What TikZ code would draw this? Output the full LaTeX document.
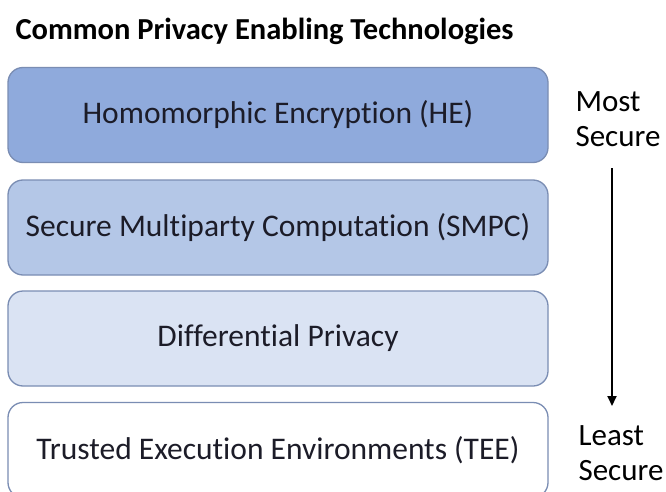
\documentclass[tikz,border=0pt]{standalone}
\usepackage{fontspec}
\setmainfont{Carlito}[RawFeature=-liga]
\usetikzlibrary{arrows.meta}
\definecolor{bordc}{HTML}{7A8DB3}
\definecolor{fillA}{HTML}{8FAADC}
\definecolor{fillB}{HTML}{B4C7E7}
\definecolor{fillC}{HTML}{DAE3F3}
\definecolor{txtc}{HTML}{1C1C28}
\begin{document}
\begin{tikzpicture}[x=1pt,y=-1pt,
  tier/.style={draw=bordc, line width=1.3pt, rounded corners=15pt, minimum width=540pt, minimum height=95pt, inner sep=0pt, text=txtc, font=\fontsize{31.5}{38}\selectfont},
  side/.style={anchor=west, align=left, font=\fontsize{31}{35}\selectfont, text=black}]
\useasboundingbox[fill=white] (0,0) rectangle (666,492);
\node[anchor=west, font=\bfseries\fontsize{30.5}{36}\selectfont, text=black] (title) at (12,31) {Common Privacy Enabling Technologies};
\node[tier, fill=fillA] (he) at (278,115) {Homomorphic Encryption (HE)};
\node[tier, fill=fillB] (smpc) at (278,227.5) {Secure Multiparty Computation (SMPC)};
\node[tier, fill=fillC] (dp) at (278,338.5) {Differential Privacy};
\node[tier, fill=white] (tee) at (278,450) {Trusted Execution Environments (TEE)};
\node[side] (most) at (572,119) {Most\\Secure};
\node[side] (least) at (575,453) {Least\\Secure};
\coordinate (astart) at (612,168);
\coordinate (aend) at (612,406);
\draw[line width=1.8pt, -{Triangle[length=10pt, width=9pt]}] (astart) -- (aend);
\end{tikzpicture}
\end{document}
